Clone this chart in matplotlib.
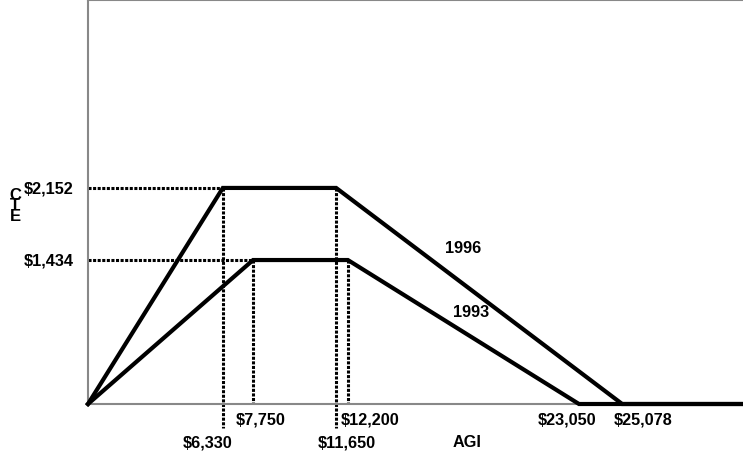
import matplotlib.pyplot as plt

plt.rcParams['font.family'] = ['Liberation Sans', 'DejaVu Sans']
plt.rcParams['font.weight'] = 'bold'

# credit schedules: AGI breakpoints and credit amounts
agi_1996 = [0, 6330, 11650, 25078, 31000]
cte_1996 = [0, 2152, 2152, 0, 0]
agi_1993 = [0, 7750, 12200, 23050, 31000]
cte_1993 = [0, 1434, 1434, 0, 0]

max_credit = [2152, 1434]
ytick_labels = ["$2,152", "$1,434"]
agi_marks = [6330, 7750, 11650, 12200, 23050, 25078]
agi_labels = ["$6,330", "$7,750", "$11,650", "$12,200", "$23,050", "$25,078"]

W, H = 743, 456
fig = plt.figure(figsize=(W / 100, H / 100), dpi=100)
ax = fig.add_axes([88 / W, 51 / H, 655 / W, 404 / H])
ax.set_xlim(0, 30750)
ax.set_ylim(0, 4024)

ax.plot(agi_1996, cte_1996, color='black', lw=3, solid_joinstyle='miter', clip_on=False, zorder=4)
ax.plot(agi_1993, cte_1993, color='black', lw=3, solid_joinstyle='miter', clip_on=False, zorder=4)

dots = (0, (1, 0.5))
lwd = 2.2
# horizontal guides from y axis to plateau start
ax.plot([0, agi_1996[1]], [max_credit[0]] * 2, color='black', lw=lwd, ls=dots)
ax.plot([0, agi_1993[1]], [max_credit[1]] * 2, color='black', lw=lwd, ls=dots)
# vertical guides
ax.plot([agi_1996[1]] * 2, [cte_1996[1], -235], color='black', lw=lwd, ls=dots, clip_on=False)
ax.plot([agi_1996[2]] * 2, [cte_1996[2], -235], color='black', lw=lwd, ls=dots, clip_on=False)
ax.plot([agi_1993[1]] * 2, [cte_1993[1], 0], color='black', lw=lwd, ls=dots)
ax.plot([agi_1993[2]] * 2, [cte_1993[2], 0], color='black', lw=lwd, ls=dots)

ax.spines['right'].set_visible(False)
for sp in ['left', 'top', 'bottom']:
    ax.spines[sp].set_color('#888888')
    ax.spines[sp].set_linewidth(1.5)
ax.set_xticks([])
ax.set_yticks([])

fs = 11.7
# y labels
for v, lab in zip(max_credit, ytick_labels):
    ax.annotate(lab, (0, v), xytext=(-10.5, 0), textcoords='offset points',
                ha='right', va='center', fontsize=fs, fontweight='bold')
fig.text(15 / W, 1 - 206 / H, "C\nT\nE", ha='center', va='center', fontsize=12,
         fontweight='bold', linespacing=0.62)

# x labels: (dx px, row)
offsets = [(-15, 1), (8, 0), (11, 1), (22, 0), (-12, 0), (21, 0)]
for v, lab, (dx, row) in zip(agi_marks, agi_labels, offsets):
    dy = -15 if row == 0 else -38
    ax.annotate(lab, (v, 0), xytext=(dx * 0.72, dy * 0.72), textcoords='offset points',
                ha='center', va='center', fontsize=fs, fontweight='bold', annotation_clip=False)
fig.text(467 / W, 1 - 443 / H, "AGI", ha='center', va='center', fontsize=fs, fontweight='bold')

ax.text(17600, 1554, "1996", ha='center', va='center', fontsize=fs, fontweight='bold')
ax.text(18000, 926, "1993", ha='center', va='center', fontsize=fs, fontweight='bold')

fig.savefig('out.png', dpi=100)
